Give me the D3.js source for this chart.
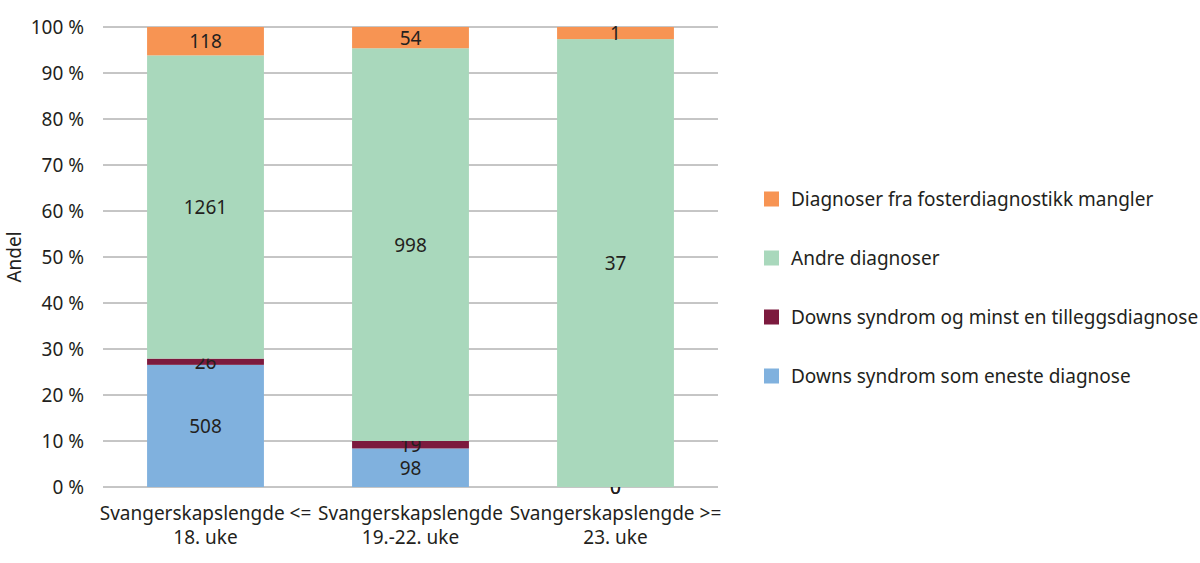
<!DOCTYPE html>
<html>
<head>
<meta charset="utf-8">
<script src="https://cdn.jsdelivr.net/npm/d3@7"></script>
<style>
  body { margin: 0; background: #fff; }
  svg { display: block; font-family: 'Noto Sans', sans-serif; }
</style>
</head>
<body>
<div id="chart"></div>
<script>
// Data
const categories = [
  ['Svangerskapslengde <=', '18. uke'],
  ['Svangerskapslengde', '19.-22. uke'],
  ['Svangerskapslengde >=', '23. uke'],
];
const seriesNames = [
  'Downs syndrom som eneste diagnose',
  'Downs syndrom og minst en tilleggsdiagnose',
  'Andre diagnoser',
  'Diagnoser fra fosterdiagnostikk mangler',
];
const downsOnly  = [508, 98, 0];
const downsPlus  = [26, 19, 0];
const andre      = [1261, 998, 37];
const mangler    = [118, 54, 1];
const yTicks = [0, 10, 20, 30, 40, 50, 60, 70, 80, 90, 100];

const COLORS = ['#80B1DE', '#7C1A3E', '#A9D8BC', '#F79453'];
const FONT_SIZE = 19;

const width = 1200, height = 563;
const margin = { top: 27, right: 482, bottom: 76, left: 103 };
const innerW = width - margin.left - margin.right;
const innerH = height - margin.top - margin.bottom;

const svg = d3.select('#chart').append('svg')
  .attr('width', width)
  .attr('height', height);

const g = svg.append('g')
  .attr('transform', `translate(${margin.left},${margin.top})`);

// Build rows and stack as percent of total
const rows = categories.map((c, i) => ({
  cat: i,
  s0: downsOnly[i], s1: downsPlus[i], s2: andre[i], s3: mangler[i],
}));
const keys = ['s0', 's1', 's2', 's3'];
const stacked = d3.stack().keys(keys).offset(d3.stackOffsetExpand)(rows);

const x = d3.scaleBand()
  .domain(d3.range(categories.length))
  .range([0, innerW])
  .paddingInner(0.43)
  .paddingOuter(0.215);

const y = d3.scaleLinear().domain([0, 1]).range([innerH, 0]);

// Gridlines
g.append('g')
  .selectAll('line')
  .data(yTicks)
  .join('line')
  .attr('x1', 0)
  .attr('x2', innerW)
  .attr('y1', d => y(d / 100))
  .attr('y2', d => y(d / 100))
  .attr('stroke', '#8c8c8c')
  .attr('stroke-width', 1);

// Y axis labels
const yAxis = g.append('g')
  .call(d3.axisLeft(y).tickValues(yTicks.map(d => d / 100))
    .tickFormat(d => `${Math.round(d * 100)} %`).tickSize(0).tickPadding(19));
yAxis.select('.domain').remove();
yAxis.selectAll('text')
  .attr('font-size', FONT_SIZE)
  .attr('fill', '#231F20')
  .attr('font-family', "'Noto Sans', sans-serif");

// Bars
const layers = g.selectAll('g.layer')
  .data(stacked)
  .join('g')
  .attr('class', 'layer')
  .attr('fill', (d, i) => COLORS[i]);

layers.selectAll('rect')
  .data(d => d)
  .join('rect')
  .attr('x', d => x(d.data.cat))
  .attr('width', x.bandwidth())
  .attr('y', d => y(d[1]))
  .attr('height', d => y(d[0]) - y(d[1]));

// Value labels
layers.selectAll('text')
  .data((d, i) => d.map(v => ({ v, key: d.key })))
  .join('text')
  .attr('x', d => x(d.v.data.cat) + x.bandwidth() / 2)
  .attr('y', d => (y(d.v[0]) + y(d.v[1])) / 2)
  .attr('text-anchor', 'middle')
  .attr('dominant-baseline', 'central')
  .attr('font-size', FONT_SIZE)
  .attr('fill', '#231F20')
  .text(d => d.v.data[d.key]);

// X axis labels (two lines)
const xl = g.append('g')
  .selectAll('text')
  .data(categories)
  .join('text')
  .attr('x', (d, i) => x(i) + x.bandwidth() / 2)
  .attr('y', innerH + 33)
  .attr('text-anchor', 'middle')
  .attr('font-size', FONT_SIZE)
  .attr('fill', '#231F20');
xl.each(function(d) {
  const t = d3.select(this);
  d.forEach((line, j) => {
    t.append('tspan')
      .attr('x', t.attr('x'))
      .attr('dy', j === 0 ? 0 : 24)
      .text(line);
  });
});

// Y axis title
svg.append('text')
  .attr('transform', `translate(21, ${margin.top + innerH / 2}) rotate(-90)`)
  .attr('text-anchor', 'middle')
  .attr('font-size', FONT_SIZE)
  .attr('fill', '#231F20')
  .text('Andel');

// Legend (reverse order, top = last series)
const legend = svg.append('g')
  .attr('transform', 'translate(764, 199)');
const legendItems = seriesNames.map((n, i) => ({ name: n, color: COLORS[i] })).reverse();
const li = legend.selectAll('g')
  .data(legendItems)
  .join('g')
  .attr('transform', (d, i) => `translate(0, ${i * 59})`);
li.append('rect')
  .attr('x', 0)
  .attr('y', -7.5)
  .attr('width', 15)
  .attr('height', 15)
  .attr('fill', d => d.color);
li.append('text')
  .attr('x', 27)
  .attr('y', 0)
  .attr('dominant-baseline', 'central')
  .attr('font-size', FONT_SIZE)
  .attr('fill', '#231F20')
  .text(d => d.name);
</script>
</body>
</html>
